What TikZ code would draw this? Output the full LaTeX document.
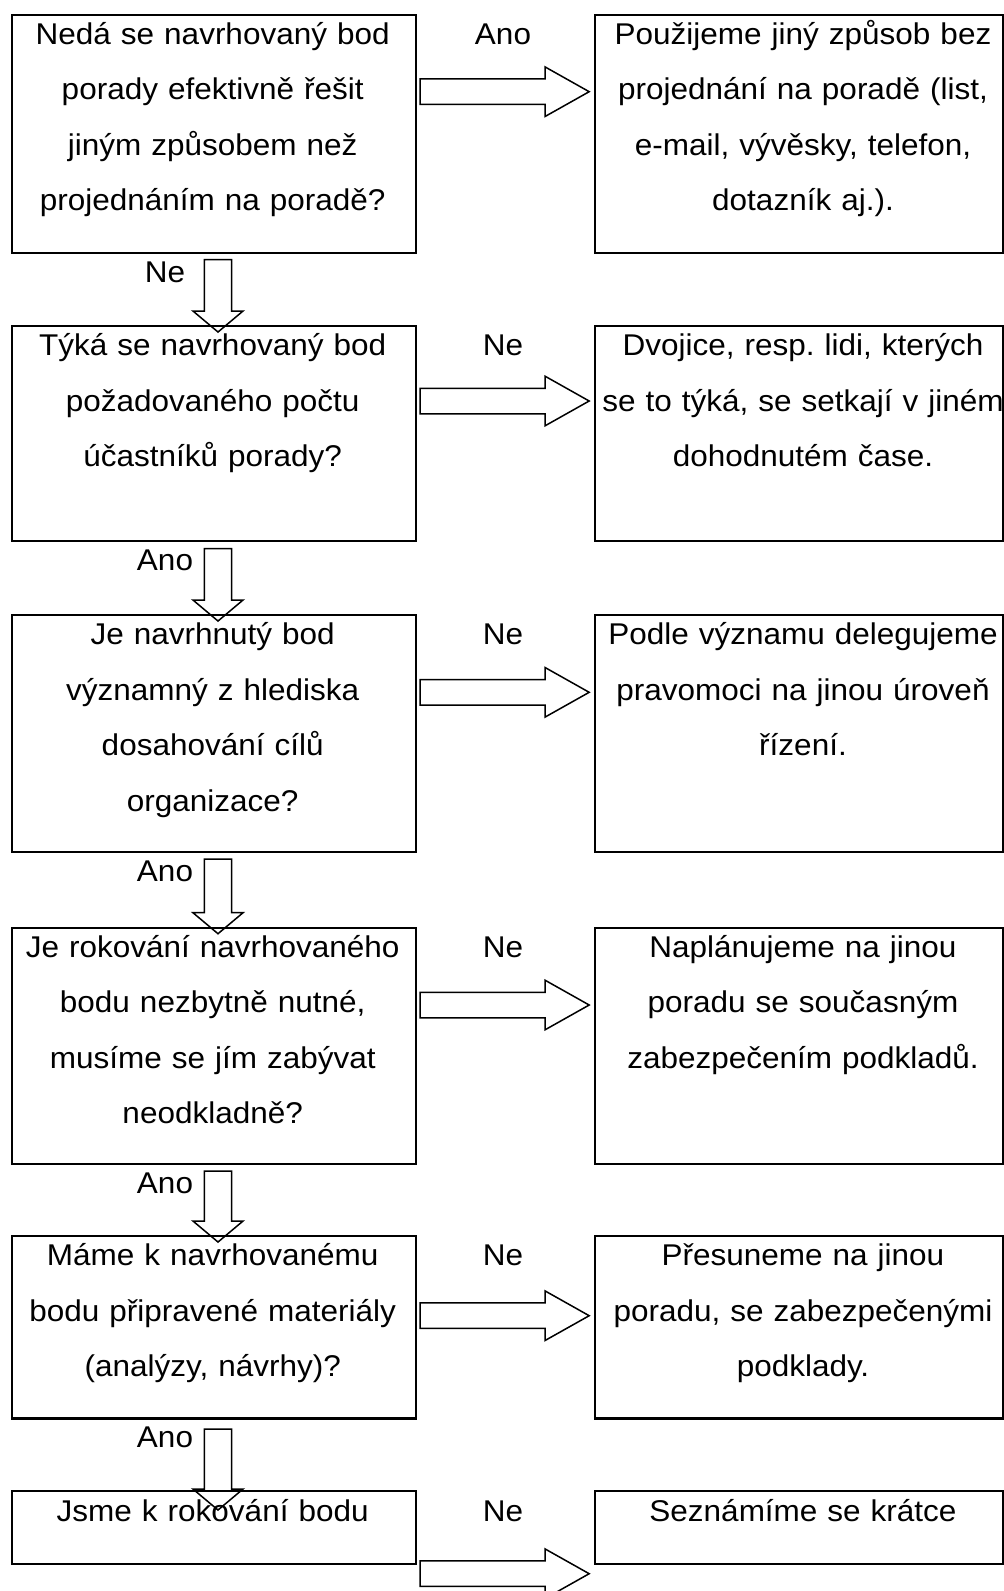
\documentclass[tikz,border=0pt]{standalone}
\usepackage{fontspec}
\setmainfont[FakeStretch=1.05]{Liberation Sans}
\usetikzlibrary{shapes.arrows,calc}
\frenchspacing

\begin{document}
\begin{tikzpicture}[x=0.5pt, y=-0.5pt,
    frame/.style={rectangle, draw=black, line width=1.1pt, anchor=north west, inner sep=0pt},
    qbox/.style={frame, minimum width=202.25pt},
    pbox/.style={frame, minimum width=204pt},
    txt/.style={anchor=base, align=center, text width=250pt, inner sep=0pt,
                font=\fontsize{15}{27.75}\selectfont},
    lbl/.style={anchor=base, inner sep=0pt, font=\fontsize{15}{18}\selectfont},
    rarr/.style={single arrow, draw=black, line width=0.75pt, inner sep=6pt,
                 minimum height=84.5pt, single arrow head extend=6pt,
                 single arrow tip angle=58.7, anchor=tip},
    darr/.style={single arrow, draw=black, line width=0.75pt, inner sep=6.4pt,
                 single arrow head extend=5.75pt, single arrow tip angle=100,
                 rotate=-90, anchor=tip}]
\useasboundingbox (0,0) rectangle (1004,1591);
% question boxes
\node[qbox, minimum height=118.85pt] (q1) at (10.5,14) {};
\node[qbox, minimum height=107.5pt] (q2) at (10.5,325) {};
\node[qbox, minimum height=118.35pt] (q3) at (10.5,614) {};
\node[qbox, minimum height=118pt] (q4) at (10.5,926.7) {};
\node[qbox, minimum height=91.15pt] (q5) at (10.5,1235) {};
\node[qbox, minimum height=36.35pt] (q6) at (10.5,1490) {};
% answer boxes
\node[pbox, minimum height=118.85pt] (p1) at (594,14) {};
\node[pbox, minimum height=107.5pt] (p2) at (594,325) {};
\node[pbox, minimum height=118.35pt] (p3) at (594,614) {};
\node[pbox, minimum height=118pt] (p4) at (594,926.7) {};
\node[pbox, minimum height=91.15pt] (p5) at (594,1235) {};
\node[pbox, minimum height=36.35pt] (p6) at (594,1490) {};
% texts
\node[txt] (tq1) at (212.7,44) {Nedá se navrhovaný bod\\porady efektivně řešit\\jiným způsobem než\\projednáním na poradě?};
\node[txt] (tp1) at (803,44) {Použijeme jiný způsob bez\\projednání na poradě (list,\\e-mail, vývěsky, telefon,\\dotazník aj.).};
\node[txt] (tq2) at (212.7,355.5) {Týká se navrhovaný bod\\požadovaného počtu\\účastníků porady?};
\node[txt] (tp2) at (803,355.5) {Dvojice, resp. lidi, kterých\\se to týká, se setkají v jiném\\dohodnutém čase.};
\node[txt] (tq3) at (212.7,644.5) {Je navrhnutý bod\\významný z hlediska\\dosahování cílů\\organizace?};
\node[txt] (tp3) at (803,644.5) {Podle významu delegujeme\\pravomoci na jinou úroveň\\řízení.};
\node[txt] (tq4) at (212.7,957) {Je rokování navrhovaného\\bodu nezbytně nutné,\\musíme se jím zabývat\\neodkladně?};
\node[txt] (tp4) at (803,957) {Naplánujeme na jinou\\poradu se současným\\zabezpečením podkladů.};
\node[txt] (tq5) at (212.7,1265.5) {Máme k navrhovanému\\bodu připravené materiály\\(analýzy, návrhy)?};
\node[txt] (tp5) at (803,1265.5) {Přesuneme na jinou\\poradu, se zabezpečenými\\podklady.};
\node[txt] (tq6) at (212.7,1521) {Jsme k rokování bodu};
\node[txt] (tp6) at (803,1521) {Seznámíme se krátce};
% labels
\node[lbl] (l1) at (503,44) {Ano};
\node[lbl] (l2) at (503,355.5) {Ne};
\node[lbl] (l3) at (503,644.5) {Ne};
\node[lbl] (l4) at (503,957) {Ne};
\node[lbl] (l5) at (503,1265.5) {Ne};
\node[lbl] (l6) at (503,1521) {Ne};
\node[lbl] (m1) at (165,282) {Ne};
\node[lbl] (m2) at (165,570) {Ano};
\node[lbl] (m3) at (165,881) {Ano};
\node[lbl] (m4) at (165,1193) {Ano};
\node[lbl] (m5) at (165,1447) {Ano};
% block arrows
\node[rarr] (r1) at ($(p1.north west)+(-3.3,77.7)$) {};
\node[rarr] (r2) at ($(p2.north west)+(-3.3,76)$) {};
\node[rarr] (r3) at ($(p3.north west)+(-3.3,78.3)$) {};
\node[rarr] (r4) at ($(p4.north west)+(-3.3,78.3)$) {};
\node[rarr] (r5) at ($(p5.north west)+(-3.3,80.7)$) {};
\node[rarr] (r6) at ($(p6.north west)+(-3.3,83.7)$) {};
\node[darr, minimum height=36.15pt] (d1) at ($(q2.north west)+(207.5,8)$) {};
\node[darr, minimum height=36.25pt] (d2) at ($(q3.north west)+(207.5,8)$) {};
\node[darr, minimum height=37.25pt] (d3) at ($(q4.north west)+(207.5,8)$) {};
\node[darr, minimum height=35.4pt] (d4) at ($(q5.north west)+(207.5,8)$) {};
\node[darr, minimum height=40.5pt] (d5) at ($(q6.north west)+(207.5,21)$) {};
\end{tikzpicture}
\end{document}
